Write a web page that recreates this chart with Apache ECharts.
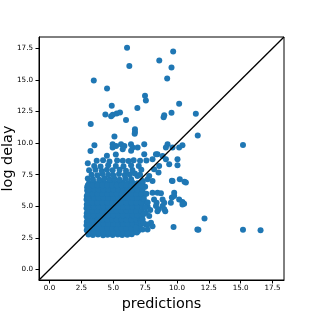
<!DOCTYPE html>
<html>
<head>
<meta charset="utf-8">
<script src="https://cdn.jsdelivr.net/npm/echarts@6/dist/echarts.min.js"></script>
<style>
html,body{margin:0;padding:0;background:#fff;}
#chart{width:316px;height:316px;}
</style>
</head>
<body>
<div id="chart"></div>
<script>
// ---- data ----
const axisMin = -0.83;
const axisMax = 18.4;
const tickValues = [0, 2.5, 5, 7.5, 10, 12.5, 15, 17.5];
const xTitle = 'predictions';
const yTitle = 'log delay';
const diagonal = [[axisMin, axisMin], [axisMax, axisMax]];

const blobPoints = [
 [3.05,2.78],[3.4,2.74],[3.8,2.77],[4.2,2.72],[4.55,2.76],[4.95,2.73],[5.35,2.78],[5.7,2.74],[6.1,2.76],[6.45,2.8],
 [2.92,3.1],[3.25,3.06],[3.62,3.12],[4.0,3.08],[4.38,3.11],[4.75,3.07],[5.15,3.12],[5.52,3.09],[5.9,3.06],[6.3,3.12],[6.68,3.1],[6.95,3.05],
 [2.9,3.5],[3.1,3.44],[3.48,3.42],[3.85,3.46],[4.22,3.43],[4.6,3.45],[4.98,3.41],[5.37,3.46],[5.75,3.43],[6.12,3.47],[6.5,3.42],[6.88,3.45],
 [2.92,3.78],[3.3,3.76],[3.67,3.8],[4.05,3.77],[4.43,3.79],[4.8,3.75],[5.18,3.8],[5.57,3.77],[5.95,3.79],[6.33,3.76],[6.7,3.8],[7.0,3.83],
 [2.9,4.2],[3.1,4.12],[3.48,4.1],[3.86,4.14],[4.24,4.11],[4.62,4.13],[5.0,4.1],[5.38,4.14],[5.76,4.12],[6.14,4.1],[6.52,4.15],[6.9,4.12],
 [2.92,4.46],[3.3,4.44],[3.68,4.48],[4.06,4.45],[4.44,4.47],[4.82,4.44],[5.2,4.48],[5.58,4.45],[5.96,4.47],[6.34,4.43],[6.72,4.48],[7.08,4.45],
 [2.9,4.85],[3.1,4.8],[3.48,4.78],[3.86,4.82],[4.24,4.79],[4.62,4.81],[5.0,4.78],[5.38,4.82],[5.76,4.8],[6.14,4.78],[6.52,4.83],[6.9,4.8],
 [2.92,5.14],[3.3,5.12],[3.68,5.16],[4.06,5.13],[4.44,5.15],[4.82,5.12],[5.2,5.16],[5.58,5.13],[5.96,5.15],[6.34,5.12],[6.72,5.16],[7.1,5.13],
 [2.9,5.55],[3.1,5.48],[3.48,5.46],[3.86,5.5],[4.24,5.47],[4.62,5.49],[5.0,5.46],[5.38,5.5],[5.76,5.47],[6.14,5.49],[6.52,5.46],[6.9,5.5],[7.2,5.48],
 [2.92,5.82],[3.3,5.8],[3.68,5.84],[4.06,5.81],[4.44,5.83],[4.82,5.8],[5.2,5.84],[5.58,5.81],[5.96,5.83],[6.34,5.8],[6.72,5.84],[7.1,5.81],[7.4,5.86],
 [2.95,6.25],[3.1,6.16],[3.48,6.14],[3.86,6.18],[4.24,6.15],[4.62,6.17],[5.0,6.14],[5.38,6.18],[5.76,6.15],[6.14,6.17],[6.52,6.14],[6.9,6.18],[7.28,6.15],
 [2.95,6.5],[3.32,6.48],[3.7,6.52],[4.08,6.49],[4.46,6.51],[4.84,6.48],[5.22,6.52],[5.6,6.49],[5.98,6.51],[6.36,6.48],[6.74,6.52],[7.12,6.49],[7.5,6.55],
 [3.1,6.84],[3.48,6.86],[3.86,6.82],[4.24,6.88],[4.62,6.84],[5.0,6.86],[5.38,6.82],[5.76,6.87],[6.14,6.84],[6.52,6.86],[6.9,6.83],[7.3,6.88]
];

// in-between points of the dense cluster, one row per log-delay level
const blobFillRows = [
 [2.93, [3.1,3.48,3.86,4.24,4.62,5.0,5.38,5.76,6.14,6.52,6.85]],
 [3.27, [3.0,3.38,3.76,4.14,4.52,4.9,5.28,5.66,6.04,6.42,6.8,7.1]],
 [3.61, [3.1,3.48,3.86,4.24,4.62,5.0,5.38,5.76,6.14,6.52,6.9,7.2]],
 [3.95, [3.0,3.38,3.76,4.14,4.52,4.9,5.28,5.66,6.04,6.42,6.8,7.15]],
 [4.29, [3.1,3.48,3.86,4.24,4.62,5.0,5.38,5.76,6.14,6.52,6.9,7.25]],
 [4.63, [3.0,3.38,3.76,4.14,4.52,4.9,5.28,5.66,6.04,6.42,6.8,7.2]],
 [4.97, [3.1,3.48,3.86,4.24,4.62,5.0,5.38,5.76,6.14,6.52,6.9,7.3,7.7]],
 [5.31, [3.0,3.38,3.76,4.14,4.52,4.9,5.28,5.66,6.04,6.42,6.8,7.2,7.6]],
 [5.65, [3.1,3.48,3.86,4.24,4.62,5.0,5.38,5.76,6.14,6.52,6.9,7.3]],
 [5.99, [3.0,3.38,3.76,4.14,4.52,4.9,5.28,5.66,6.04,6.42,6.8,7.2]],
 [6.33, [3.1,3.48,3.86,4.24,4.62,5.0,5.38,5.76,6.14,6.52,6.9,7.3]],
 [6.67, [3.0,3.38,3.76,4.14,4.52,4.9,5.28,5.66,6.04,6.42,6.8,7.2]]
];

const upperPoints = [
 [3.0,7.2],[3.4,7.15],[3.9,7.1],[4.3,7.2],[4.7,7.12],[5.1,7.18],[5.5,7.1],[5.95,7.2],[6.4,7.14],[6.9,7.4],[7.3,7.0],[7.69,7.14],[7.82,7.4],[8.08,7.0],
 [3.3,7.5],[3.75,7.45],[4.15,7.55],[4.6,7.5],[5.0,7.45],[5.45,7.55],[5.9,7.48],[6.3,7.52],[6.7,7.6],[7.1,7.5],
 [3.1,7.85],[3.6,7.9],[4.1,7.8],[4.5,7.9],[4.95,7.85],[5.5,7.9],[6.0,7.82],[6.5,7.88],[7.2,7.9],[8.2,7.93],[8.55,7.67],
 [3.5,8.2],[4.0,8.15],[4.6,8.25],[5.2,8.2],[5.8,8.18],[6.4,8.25],[7.0,8.2],[8.6,8.2],[9.39,8.33],[10.04,8.25],
 [3.0,8.4],[3.7,8.6],[4.2,8.65],[4.7,8.55],[5.3,8.62],[5.75,8.6],[6.2,8.58],[6.6,8.65],[7.1,8.6],[7.6,8.62],[8.08,8.72],[9.13,8.72],[10.04,8.72],
 [4.5,9.0],[5.2,9.1],[6.4,9.4],[7.43,9.12],[8.47,9.12],[8.87,8.98],[8.35,9.12],
 [3.21,9.38],[3.52,9.83],[4.95,9.91],[4.95,9.65],[5.22,9.78],[5.61,9.91],[5.87,9.78],[5.74,9.52],[6.39,9.91],[6.52,9.65],[6.91,9.65],[7.43,9.91],
 [9.26,9.91],[9.13,9.65],[9.65,9.65],[10.17,9.65],[10.43,9.83]
];

const highPoints = [
 [5.09,10.52],[6.7,10.89],[6.7,11.1],[6.68,10.75],[11.63,10.6],[3.23,11.52],[6.0,11.84],
 [4.38,12.27],[4.83,12.13],[4.96,12.24],[5.27,12.35],[5.53,12.43],[8.95,12.05],[9.0,12.2],[9.57,12.4],[11.48,12.32],
 [4.88,12.95],[6.89,12.79],[10.17,13.11],[7.49,13.75],[7.56,13.38],[4.51,14.33],[3.47,14.96],
 [9.23,15.12],[9.57,15.99],[6.26,16.1],[8.61,16.55],[9.7,17.26],[6.08,17.55]
];

const rightPoints = [
 [9.6,7.03],[10.22,7.14],[10.59,6.95],[10.7,6.88],[9.65,7.0],
 [8.08,6.08],[8.47,6.08],[8.74,6.03],[9.78,6.08],[9.6,5.69],[9.78,5.81],
 [8.2,5.55],[8.4,5.29],[8.55,4.76],[8.87,5.02],[9.0,4.76],[8.87,5.55],[9.0,5.29],
 [9.52,5.29],[10.17,5.55],[10.43,5.34],[10.56,5.21],[10.43,5.15],
 [9.08,4.62],[8.35,5.02],[8.47,4.62],[7.56,4.5],[7.82,4.23],[7.96,3.7],
 [7.17,3.83],[7.3,3.97],[7.56,3.57],[7.69,3.57],[8.08,3.43],[7.3,3.17],[7.69,3.17],[6.78,3.3],
 [7.6,6.0],[7.4,5.6],[7.7,5.3],[7.5,4.9],[7.9,4.7],[7.4,4.4],[7.35,3.7],
 [12.16,4.04],[11.6,3.17],[11.68,3.15],[9.73,3.36],[15.18,3.15],[16.56,3.1],[15.18,9.86]
];

const blobFill = [];
blobFillRows.forEach(function (row) {
  row[1].forEach(function (x) { blobFill.push([x, row[0]]); });
});

const allPoints = blobPoints.concat(blobFill, upperPoints, highPoints, rightPoints);

const chart = echarts.init(document.getElementById('chart'), null, {renderer: 'canvas'});
const font = 'DejaVu Sans';
function fmt(v){ return v.toFixed(1); }

chart.setOption({
  animation: false,
  backgroundColor: '#fff',
  grid: {left: 39, right: 32, top: 37, bottom: 36, show: true, borderColor: '#000', borderWidth: 1, containLabel: false, outerBoundsMode: 'none'},
  xAxis: {
    type: 'value', min: axisMin, max: axisMax,
    name: xTitle, nameLocation: 'middle', nameGap: 17, nameMoveOverlap: false,
    nameTextStyle: {fontFamily: font, fontSize: 14.4, color: '#000', verticalAlign: 'top'},
    axisLine: {show: true, onZero: false, lineStyle: {color: '#000', width: 1}},
    axisTick: {show: true, inside: false, length: 3.5, lineStyle: {color: '#000'}, customValues: tickValues},
    axisLabel: {show: true, margin: 5, fontFamily: font, fontSize: 7.2, color: '#000', formatter: fmt, customValues: tickValues},
    splitLine: {show: false}
  },
  yAxis: {
    type: 'value', min: axisMin, max: axisMax,
    name: yTitle, nameLocation: 'middle', nameGap: 24, nameRotate: 90, nameMoveOverlap: false,
    nameTextStyle: {fontFamily: font, fontSize: 14.4, color: '#000', verticalAlign: 'bottom'},
    axisLine: {show: true, onZero: false, lineStyle: {color: '#000', width: 1}},
    axisTick: {show: true, inside: false, length: 3.5, lineStyle: {color: '#000'}, customValues: tickValues},
    axisLabel: {show: true, margin: 6, fontFamily: font, fontSize: 7.2, color: '#000', formatter: fmt, customValues: tickValues},
    splitLine: {show: false}
  },
  series: [
    {
      type: 'scatter', data: allPoints, symbol: 'circle', symbolSize: 6,
      itemStyle: {color: '#1f77b4', opacity: 1}, z: 2
    },
    {
      type: 'line', data: diagonal, symbol: 'none',
      lineStyle: {color: '#000', width: 1.3}, z: 3
    }
  ]
});
</script>
</body>
</html>
